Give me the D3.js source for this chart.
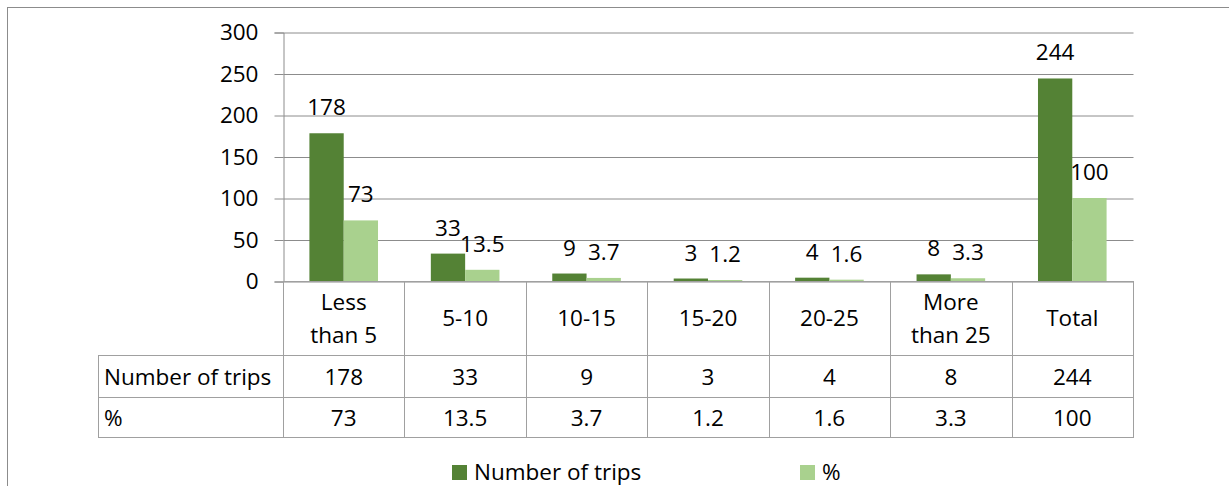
<!DOCTYPE html>
<html>
<head>
<meta charset="utf-8">
<script src="https://cdn.jsdelivr.net/npm/d3@7"></script>
<style>
  html, body { margin: 0; padding: 0; background: #fff; }
  svg { display: block; }
  text { font-family: "Open Sans", Lato, sans-serif; fill: #000; }
</style>
</head>
<body>
<script>
// Trip distance groups and the two series shown as bars and in the table
const categories = [["Less", "than 5"], ["5-10"], ["10-15"], ["15-20"], ["20-25"], ["More", "than 25"], ["Total"]];
const seriesNames = ["Number of trips", "%"];
const trips = [178, 33, 9, 3, 4, 8, 244];
const percent = [73, 13.5, 3.7, 1.2, 1.6, 3.3, 100];
const percentLabels = ["73", "13.5", "3.7", "1.2", "1.6", "3.3", "100"];
const yTicks = [0, 50, 100, 150, 200, 250, 300];
const colors = ["#548235", "#A9D18E"];

const W = 1229, H = 486;
const plot = { left: 283, right: 1133, top: 32, bottom: 281 };
const rows = { header: 355, r1: 397, r2: 437, tableLeft: 98 };
const fontSize = 22.5;
const fontFamily = "'Open Sans', Lato, sans-serif";

const svg = d3.select("body").append("svg").attr("width", W).attr("height", H);

// outer chart frame (runs off the right and bottom edges)
svg.append("rect")
  .attr("x", 7.5).attr("y", 7.5).attr("width", W + 20).attr("height", H + 20)
  .attr("fill", "#fff").attr("stroke", "#8c8c8c").attr("stroke-width", 1);

const keys = categories.map((c, i) => i);
const x = d3.scaleBand().domain(keys).range([plot.left, plot.right]).padding(0);
const xs = d3.scaleBand().domain([0, 1]).range([0, x.bandwidth()]).paddingInner(0).paddingOuter(0.77);
const y = d3.scaleLinear().domain([0, 300]).range([plot.bottom, plot.top]);

// gridlines and y axis
const yAxis = d3.axisLeft(y).tickValues(yTicks).tickSize(9).tickPadding(16);
const gy = svg.append("g").attr("transform", `translate(${plot.left + 0.5},0.5)`).call(yAxis);
gy.select(".domain").attr("stroke", "#8c8c8c");
gy.selectAll(".tick line").attr("stroke", "#8c8c8c");
gy.selectAll(".tick text").attr("font-size", fontSize).attr("font-family", fontFamily).attr("fill", "#000");
gy.selectAll(".tick").append("line")
  .attr("x1", 0).attr("x2", plot.right - plot.left).attr("stroke", "#8c8c8c");

// bars
const series = [trips, percent];
series.forEach((vals, s) => {
  svg.append("g").selectAll("rect").data(vals).join("rect")
    .attr("x", (d, i) => x(i) + xs(s))
    .attr("width", xs.bandwidth())
    .attr("y", d => y(d))
    .attr("height", d => y(0) - y(d))
    .attr("fill", colors[s]);
});

// value labels above each bar
series.forEach((vals, s) => {
  svg.append("g").selectAll("text").data(vals).join("text")
    .attr("x", (d, i) => x(i) + xs(s) + xs.bandwidth() / 2)
    .attr("y", d => y(d) - 18)
    .attr("text-anchor", "middle")
    .attr("font-size", fontSize)
    .text((d, i) => s === 0 ? String(d) : percentLabels[i]);
});

// data table beneath the plot
const tbl = svg.append("g").attr("stroke", "#a0a0a0").attr("stroke-width", 1).attr("fill", "none");
const hl = (x1, x2, yy) => tbl.append("line").attr("x1", x1).attr("x2", x2).attr("y1", yy + 0.5).attr("y2", yy + 0.5);
const vl = (xx, y1, y2) => tbl.append("line").attr("x1", xx + 0.5).attr("x2", xx + 0.5).attr("y1", y1).attr("y2", y2);
hl(plot.left, plot.right, plot.bottom);
hl(rows.tableLeft, plot.right, rows.header);
hl(rows.tableLeft, plot.right, rows.r1);
hl(rows.tableLeft, plot.right, rows.r2);
vl(rows.tableLeft, rows.header, rows.r2 + 1);
keys.forEach(i => vl(Math.round(x(i)), plot.bottom, rows.r2 + 1));
vl(plot.right, plot.bottom, rows.r2 + 1);

// category headers
const hdr = svg.append("g");
categories.forEach((lines, i) => {
  const cx = x(i) + x.bandwidth() / 2;
  const cy = (plot.bottom + rows.header) / 2;
  const lh = 33;
  lines.forEach((t, j) => {
    hdr.append("text")
      .attr("x", cx)
      .attr("y", cy + (j - (lines.length - 1) / 2) * lh)
      .attr("dy", "0.36em")
      .attr("text-anchor", "middle")
      .attr("font-size", fontSize)
      .text(t);
  });
});

// table rows
const rowDefs = [
  { name: seriesNames[0], vals: trips.map(String), top: rows.header, bottom: rows.r1 },
  { name: seriesNames[1], vals: percentLabels, top: rows.r1, bottom: rows.r2 }
];
rowDefs.forEach(r => {
  const cy = (r.top + r.bottom) / 2 + 1;
  svg.append("text").attr("x", rows.tableLeft + 6).attr("y", cy).attr("dy", "0.36em")
    .attr("font-size", fontSize).text(r.name);
  r.vals.forEach((v, i) => {
    svg.append("text").attr("x", x(i) + x.bandwidth() / 2).attr("y", cy).attr("dy", "0.36em")
      .attr("text-anchor", "middle").attr("font-size", fontSize).text(v);
  });
});

// legend
const legendX = [452, 800];
const lg = svg.append("g");
seriesNames.forEach((n, s) => {
  lg.append("rect").attr("x", legendX[s]).attr("y", 465).attr("width", 15).attr("height", 15).attr("fill", colors[s]);
  lg.append("text").attr("x", legendX[s] + 22).attr("y", 479.5)
    .attr("font-size", fontSize).text(n);
});
</script>
</body>
</html>
